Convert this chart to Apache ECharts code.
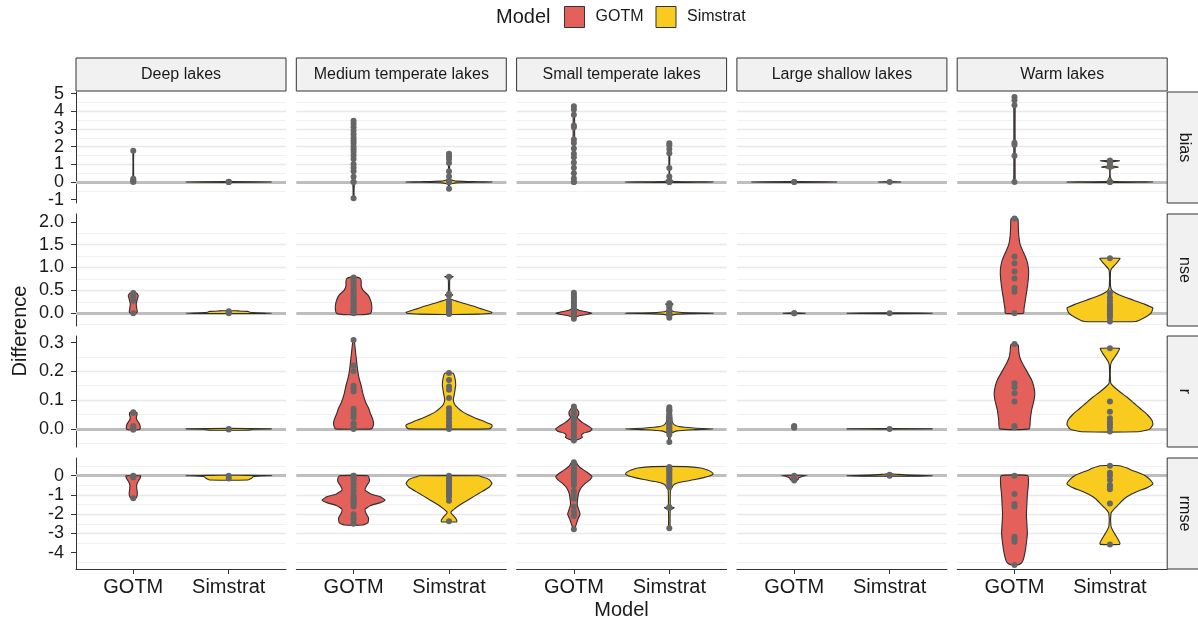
<!DOCTYPE html>
<html>
<head>
<meta charset="utf-8">
<script src="https://cdn.jsdelivr.net/npm/echarts@6/dist/echarts.min.js"></script>
<style>
  html, body { margin: 0; padding: 0; background: #fff; }
  #chart { width: 1198px; height: 626px; }
</style>
</head>
<body>
<div id="chart"></div>
<script>
// facets
const lakeGroups = ['Deep lakes', 'Medium temperate lakes', 'Small temperate lakes', 'Large shallow lakes', 'Warm lakes'];
const metrics = ['bias', 'nse', 'r', 'rmse'];
const models = ['GOTM', 'Simstrat'];

// y scale per metric (free scales by row)
const yMin = [-1.19, -0.28, -0.063, -4.85];
const yMax = [5.09, 2.17, 0.323, 0.92];
const yStep = [1, 0.5, 0.1, 1];
const biasTicks = [-1, 0, 1, 2, 3, 4, 5];
const nseTicks = [0, 0.5, 1, 1.5, 2];
const rTicks = [0, 0.1, 0.2, 0.3];
const rmseTicks = [-4, -3, -2, -1, 0];
const yTicks = [biasTicks, nseTicks, rTicks, rmseTicks];
const yDigits = [0, 1, 1, 0];

// points: per lake group, [GOTM, Simstrat]
const biasPoints = [
  [[1.76, 0.18, 0.1, 0.05, 0.0], [0.0, 0.0, 0.01]],
  [[3.46, 3.3, 3.1, 2.9, 2.7, 2.5, 2.35, 2.2, 2.0, 1.85, 1.7, 1.5, 1.3, 1.0, 0.8, 0.6, 0.3, 0.0, 0.0, -0.92],
   [1.59, 1.45, 1.3, 1.07, 0.6, 0.31, 0.05, 0.02, 0.0, -0.39]],
  [[4.29, 4.1, 3.8, 3.2, 3.1, 2.4, 2.2, 1.9, 1.6, 1.4, 1.1, 0.8, 0.5, 0.2, 0.0, 0.0],
   [2.19, 2.08, 1.87, 1.63, 0.79, 0.31, 0.05, 0.0, 0.0]],
  [[0.0, 0.0], [0.0]],
  [[4.81, 4.62, 4.34, 2.22, 2.1, 1.48, 0.0], [1.21, 1.03, 0.84, 0.0, 0.0]]
];
const nsePoints = [
  [[0.44, 0.4, 0.35, 0.27, 0.0], [0.04, 0.02, 0.0]],
  [[0.78, 0.74, 0.7, 0.65, 0.6, 0.55, 0.5, 0.45, 0.4, 0.36, 0.32, 0.28, 0.25, 0.2, 0.16, 0.12, 0.08, 0.05, 0.02, 0.0],
   [0.8, 0.42, 0.38, 0.25, 0.2, 0.15, 0.1, 0.08, 0.05, 0.03, 0.0, -0.02]],
  [[0.45, 0.4, 0.35, 0.3, 0.25, 0.2, 0.15, 0.1, 0.05, 0.02, 0.0, -0.03, -0.07, -0.12],
   [0.22, 0.18, 0.15, 0.1, 0.05, 0.02, 0.0, -0.02, -0.05, -0.1]],
  [[0.0, 0.0], [0.0]],
  [[2.07, 1.24, 1.09, 0.91, 0.76, 0.55, 0.47, 0.0],
   [1.2, 0.44, 0.35, 0.28, 0.2, 0.15, 0.1, 0.05, 0.0, -0.05, -0.1, -0.18]]
];
const rPoints = [
  [[0.058, 0.055, 0.01, 0.005, -0.003], [-0.002, 0.0]],
  [[0.309, 0.22, 0.2, 0.15, 0.14, 0.13, 0.07, 0.06, 0.05, 0.04, 0.02, 0.015, 0.005, 0.0],
   [0.194, 0.17, 0.147, 0.136, 0.107, 0.072, 0.06, 0.049, 0.037, 0.025, 0.014, 0.008, 0.0]],
  [[0.078, 0.07, 0.055, 0.05, 0.04, 0.03, 0.02, 0.01, 0.005, 0.0, -0.01, -0.02, -0.03, -0.04],
   [0.075, 0.065, 0.06, 0.05, 0.045, 0.04, 0.035, 0.03, 0.02, 0.015, 0.01, 0.005, 0.0, -0.005, -0.01, -0.02, -0.046]],
  [[0.01, 0.007, 0.004], [0.0]],
  [[0.295, 0.159, 0.145, 0.124, 0.095, 0.01, 0.005],
   [0.28, 0.095, 0.06, 0.037, 0.025, 0.015, 0.005, -0.009]]
];
const rmsePoints = [
  [[0.0, -0.05, -0.1, -1.17], [0.0, -0.14]],
  [[0.0, 0.0, -0.1, -0.2, -0.4, -0.6, -0.8, -1.0, -1.1, -1.2, -1.25, -1.3, -1.4, -1.5, -1.6, -2.0, -2.2, -2.3, -2.5],
   [0.0, -0.1, -0.2, -0.3, -0.4, -0.5, -0.6, -0.7, -0.8, -0.9, -1.0, -1.1, -1.3, -2.37]],
  [[0.7, 0.6, 0.5, 0.4, 0.3, 0.2, 0.1, 0.0, -0.1, -0.2, -0.35, -0.5, -0.8, -1.0, -1.2, -1.6, -1.85, -2.0, -2.1, -2.78],
   [0.45, 0.35, 0.3, 0.2, 0.1, 0.0, -0.1, -0.2, -0.3, -0.45, -0.6, -1.64, -1.66, -2.73]],
  [[0.0, -0.05, -0.15, -0.25], [0.05, 0.02, 0.0]],
  [[0.0, -0.95, -1.47, -1.6, -3.17, -3.3, -3.43, -4.64],
   [0.52, 0.15, 0.0, -0.22, -0.48, -0.55, -0.71, -1.44, -3.57]]
];

// violin density outlines: [value, half width in category units]
const biasViolins = [
  [[[0, 0.008], [0.1, 0.008], [0.25, 0.004], [1.0, 0.003], [1.7, 0.004], [1.76, 0.003]],
   [[-0.03, 0], [-0.015, 0.3], [0, 0.45], [0.015, 0.3], [0.03, 0]]],
  [[[-0.92, 0.004], [-0.5, 0.005], [0, 0.008], [1, 0.008], [2, 0.009], [3, 0.007], [3.46, 0.004]],
   [[-0.39, 0.004], [-0.15, 0.008], [-0.05, 0.07], [-0.015, 0.3], [0, 0.45], [0.015, 0.3], [0.05, 0.08], [0.15, 0.01], [0.6, 0.005], [1.1, 0.006], [1.59, 0.004]]],
  [[[0, 0.008], [1, 0.008], [2, 0.008], [3, 0.008], [4, 0.007], [4.29, 0.004]],
   [[-0.03, 0], [-0.015, 0.3], [0, 0.46], [0.015, 0.3], [0.04, 0.04], [0.3, 0.005], [1.0, 0.004], [1.9, 0.006], [2.19, 0.004]]],
  [[[-0.03, 0], [-0.015, 0.3], [0, 0.45], [0.015, 0.3], [0.03, 0]],
   [[-0.02, 0], [0, 0.12], [0.02, 0]]],
  [[[0, 0.007], [1, 0.006], [2, 0.007], [3, 0.006], [4.3, 0.007], [4.81, 0.004]],
   [[-0.03, 0], [-0.015, 0.3], [0, 0.45], [0.015, 0.3], [0.04, 0.03], [0.3, 0.004], [0.74, 0.005], [0.8, 0.04], [0.85, 0.09], [0.9, 0.03], [0.96, 0.008], [1.03, 0.025], [1.1, 0.008], [1.15, 0.04], [1.2, 0.1], [1.23, 0.02]]]
];
const nseViolins = [
  [[[0, 0.025], [0.03, 0.042], [0.1, 0.037], [0.2, 0.031], [0.3, 0.042], [0.38, 0.052], [0.44, 0.035]],
   [[-0.005, 0.3], [0, 0.45], [0.01, 0.3], [0.02, 0.22], [0.04, 0.2], [0.05, 0.1], [0.055, 0.02]]],
  [[[-0.035, 0.05], [-0.02, 0.15], [0, 0.18], [0.07, 0.19], [0.18, 0.19], [0.3, 0.175], [0.4, 0.15], [0.5, 0.1], [0.6, 0.08], [0.7, 0.08], [0.76, 0.07], [0.79, 0.03]],
   [[-0.03, 0.05], [-0.02, 0.3], [0, 0.44], [0.02, 0.45], [0.05, 0.41], [0.1, 0.33], [0.15, 0.26], [0.2, 0.18], [0.25, 0.1], [0.31, 0.012], [0.36, 0.01], [0.4, 0.04], [0.44, 0.01], [0.6, 0.006], [0.76, 0.01], [0.8, 0.045], [0.82, 0.005]]],
  [[[-0.15, 0.005], [-0.1, 0.01], [-0.06, 0.05], [-0.03, 0.13], [0, 0.19], [0.03, 0.13], [0.06, 0.06], [0.1, 0.02], [0.2, 0.01], [0.35, 0.008], [0.47, 0.004]],
   [[-0.1, 0.005], [-0.05, 0.015], [-0.025, 0.06], [-0.01, 0.2], [0, 0.46], [0.01, 0.2], [0.025, 0.08], [0.05, 0.03], [0.1, 0.01], [0.16, 0.015], [0.2, 0.04], [0.22, 0.01]]],
  [[[-0.01, 0], [0, 0.12], [0.01, 0]],
   [[-0.01, 0], [-0.004, 0.3], [0, 0.45], [0.004, 0.3], [0.01, 0]]],
  [[[0, 0.095], [0.1, 0.1], [0.3, 0.115], [0.5, 0.13], [0.75, 0.145], [0.95, 0.148], [1.15, 0.13], [1.35, 0.09], [1.5, 0.06], [1.7, 0.045], [1.9, 0.04], [2.07, 0.035]],
   [[-0.18, 0.27], [-0.1, 0.36], [0, 0.43], [0.11, 0.45], [0.2, 0.36], [0.29, 0.24], [0.4, 0.1], [0.5, 0.02], [0.6, 0.006], [0.9, 0.006], [0.97, 0.015], [1.05, 0.05], [1.12, 0.08], [1.2, 0.105]]]
];
const rViolins = [
  [[[-0.003, 0.05], [0.0, 0.07], [0.01, 0.072], [0.02, 0.06], [0.03, 0.04], [0.04, 0.032], [0.05, 0.04], [0.058, 0.035]],
   [[-0.005, 0.2], [-0.002, 0.26], [0, 0.45], [0.001, 0.2], [0.002, 0]]],
  [[[0, 0.19], [0.01, 0.205], [0.02, 0.21], [0.035, 0.2], [0.05, 0.18], [0.07, 0.16], [0.09, 0.13], [0.12, 0.1], [0.15, 0.08], [0.18, 0.055], [0.21, 0.04], [0.24, 0.03], [0.27, 0.02], [0.3, 0.01], [0.309, 0.005]],
   [[0, 0.42], [0.008, 0.45], [0.014, 0.45], [0.025, 0.375], [0.037, 0.28], [0.049, 0.2], [0.06, 0.14], [0.072, 0.095], [0.085, 0.06], [0.1, 0.045], [0.12, 0.055], [0.153, 0.07], [0.18, 0.06], [0.194, 0.04]]],
  [[[-0.042, 0.01], [-0.036, 0.05], [-0.03, 0.09], [-0.022, 0.08], [-0.015, 0.1], [-0.008, 0.17], [0, 0.19], [0.01, 0.15], [0.02, 0.1], [0.03, 0.06], [0.04, 0.035], [0.05, 0.05], [0.06, 0.05], [0.07, 0.03], [0.078, 0.01]],
   [[-0.046, 0.005], [-0.03, 0.008], [-0.015, 0.02], [-0.007, 0.08], [-0.003, 0.25], [0, 0.46], [0.003, 0.25], [0.008, 0.1], [0.015, 0.05], [0.025, 0.03], [0.04, 0.025], [0.055, 0.02], [0.07, 0.025], [0.078, 0.01]]],
  [[[0.003, 0.005], [0.007, 0.01], [0.011, 0.005]],
   [[-0.0015, 0], [0, 0.45], [0.0015, 0]]],
  [[[0.0, 0.155], [0.03, 0.165], [0.066, 0.18], [0.1, 0.205], [0.124, 0.213], [0.15, 0.2], [0.17, 0.18], [0.2, 0.13], [0.23, 0.08], [0.25, 0.055], [0.27, 0.045], [0.29, 0.04], [0.295, 0.025]],
   [[-0.01, 0.3], [-0.005, 0.38], [0.0, 0.42], [0.015, 0.45], [0.03, 0.44], [0.05, 0.39], [0.07, 0.32], [0.09, 0.25], [0.11, 0.18], [0.13, 0.1], [0.15, 0.03], [0.16, 0.008], [0.22, 0.006], [0.235, 0.02], [0.25, 0.05], [0.265, 0.08], [0.28, 0.1]]]
];
const rmseViolins = [
  [[[-1.2, 0.01], [-1.15, 0.03], [-1.05, 0.04], [-0.9, 0.043], [-0.7, 0.038], [-0.5, 0.035], [-0.3, 0.05], [-0.15, 0.07], [0, 0.077]],
   [[-0.22, 0.2], [-0.15, 0.235], [-0.06, 0.255], [-0.02, 0.3], [0, 0.45], [0.01, 0.3], [0.02, 0.1]]],
  [[[-2.56, 0.1], [-2.45, 0.15], [-2.2, 0.157], [-1.95, 0.13], [-1.75, 0.12], [-1.55, 0.18], [-1.4, 0.28], [-1.26, 0.33], [-1.1, 0.28], [-0.95, 0.18], [-0.74, 0.12], [-0.5, 0.14], [-0.3, 0.165], [-0.15, 0.165], [0, 0.15]],
   [[-2.4, 0.08], [-2.3, 0.08], [-2.15, 0.06], [-2.0, 0.03], [-1.9, 0.02], [-1.75, 0.05], [-1.5, 0.12], [-1.2, 0.22], [-0.9, 0.32], [-0.6, 0.42], [-0.4, 0.45], [-0.2, 0.42], [-0.05, 0.34], [0, 0.31]]],
  [[[-2.78, 0.005], [-2.6, 0.02], [-2.3, 0.04], [-2.0, 0.065], [-1.75, 0.05], [-1.5, 0.035], [-1.2, 0.04], [-0.9, 0.05], [-0.6, 0.08], [-0.4, 0.12], [-0.2, 0.17], [-0.05, 0.19], [0.1, 0.16], [0.3, 0.1], [0.5, 0.05], [0.65, 0.03], [0.73, 0.01]],
   [[-2.73, 0.005], [-2.68, 0.012], [-2.6, 0.008], [-1.8, 0.01], [-1.72, 0.03], [-1.66, 0.05], [-1.6, 0.012], [-0.75, 0.012], [-0.6, 0.03], [-0.5, 0.04], [-0.4, 0.07], [-0.3, 0.15], [-0.2, 0.27], [-0.1, 0.36], [0.0, 0.43], [0.09, 0.46], [0.2, 0.44], [0.3, 0.4], [0.4, 0.33], [0.47, 0.18]]],
  [[[-0.3, 0.01], [-0.2, 0.04], [-0.1, 0.05], [-0.03, 0.09], [0, 0.115], [0.02, 0.08]],
   [[-0.02, 0.3], [0, 0.45], [0.04, 0.2], [0.08, 0.05], [0.1, 0.01]]],
  [[[-4.64, 0.03], [-4.55, 0.07], [-4.4, 0.09], [-4.0, 0.11], [-3.5, 0.125], [-3.0, 0.135], [-2.5, 0.13], [-2.0, 0.125], [-1.5, 0.13], [-1.0, 0.135], [-0.5, 0.145], [0, 0.14]],
   [[-3.57, 0.1], [-3.5, 0.105], [-3.35, 0.09], [-3.1, 0.06], [-2.85, 0.03], [-2.6, 0.01], [-1.95, 0.012], [-1.75, 0.04], [-1.5, 0.09], [-1.2, 0.15], [-1.0, 0.21], [-0.8, 0.3], [-0.6, 0.4], [-0.43, 0.45], [-0.2, 0.42], [0, 0.37], [0.15, 0.3], [0.3, 0.22], [0.4, 0.18], [0.52, 0.1]]]
];

const allPoints = [biasPoints, nsePoints, rPoints, rmsePoints];
const allViolins = [biasViolins, nseViolins, rViolins, rmseViolins];

// layout
const FONT = 'Liberation Sans, Arial, Helvetica, sans-serif';
const fillColors = ['#E4605A', '#F8CB1E'];
const colLeft = [76, 296.3, 516.6, 736.9, 957.2];
const panelW = 210;
const rowTop = [92, 214, 336, 458];
const rowH = [111, 112, 111, 111];

const grids = [], xAxes = [], yAxes = [], series = [], graphics = [];

metrics.forEach((metric, r) => {
  const ticks = yTicks[r];
  // blank end labels so the real first/last labels are not dropped for overlap
  const labelValues = [yMin[r]].concat(ticks, [yMax[r]]);
  lakeGroups.forEach((lake, c) => {
    const g = r * 5 + c;
    grids.push({ left: colLeft[c], top: rowTop[r], width: panelW, height: rowH[r] });
    xAxes.push({
      gridIndex: g, type: 'value', min: 0.4, max: 2.6, minInterval: 1, maxInterval: 1,
      axisLine: { show: r === 3, onZero: false, lineStyle: { color: '#333', width: 1 } },
      axisTick: { show: r === 3, length: 5, customValues: [1, 2], lineStyle: { color: '#333' } },
      axisLabel: {
        show: r === 3, customValues: [1, 2], margin: 8,
        formatter: v => models[Math.round(v) - 1] || '',
        fontSize: 20, color: '#1a1a1a', fontFamily: FONT
      },
      splitLine: { show: true, showMinLine: false, showMaxLine: false, lineStyle: { color: '#ebebeb', width: 1.5 } }
    });
    yAxes.push({
      gridIndex: g, type: 'value', min: yMin[r], max: yMax[r],
      minInterval: yStep[r], maxInterval: yStep[r],
      axisLine: { show: c === 0, onZero: false, lineStyle: { color: '#333', width: 1 } },
      axisTick: { show: c === 0, length: 5, customValues: ticks, lineStyle: { color: '#333' } },
      axisLabel: {
        show: c === 0, customValues: labelValues, margin: 12,
        showMinLabel: false, showMaxLabel: false, hideOverlap: false, interval: 0,
        formatter: v => (v < ticks[0] - 1e-9 || v > ticks[ticks.length - 1] + 1e-9) ? '' : Number(v).toFixed(yDigits[r]),
        fontSize: 18, color: '#1a1a1a', fontFamily: FONT
      },
      splitLine: { show: true, showMinLine: false, showMaxLine: false, lineStyle: { color: '#e8e8e8', width: 1.4 } },
      minorTick: { show: false, splitNumber: 2 },
      minorSplitLine: { show: true, lineStyle: { color: '#f1f1f1', width: 1 } }
    });

    // zero reference line, under the violins
    series.push({
      type: 'scatter', xAxisIndex: g, yAxisIndex: g, data: [], silent: true, z: 1,
      markLine: {
        silent: true, symbol: 'none', label: { show: false }, animation: false, z: 1,
        lineStyle: { color: '#bebebe', width: 3, type: 'solid' },
        data: [{ yAxis: 0 }]
      }
    });

    models.forEach((model, m) => {
      const profile = allViolins[r][c][m];
      const xc = m + 1;
      series.push({
        type: 'custom', name: model, xAxisIndex: g, yAxisIndex: g, z: 2, silent: true,
        itemStyle: { color: fillColors[m] },
        data: [[xc, 0]],
        renderItem: (params, api) => {
          const right = profile.map(p => api.coord([xc + p[1], p[0]]));
          const left = profile.slice().reverse().map(p => api.coord([xc - p[1], p[0]]));
          return {
            type: 'polygon',
            shape: { points: right.concat(left), smooth: profile.length > 6 ? 0.15 : 0 },
            style: { fill: fillColors[m], stroke: '#2e2e2e', lineWidth: 1.1 }
          };
        }
      });
      series.push({
        type: 'scatter', xAxisIndex: g, yAxisIndex: g, z: 3, silent: true,
        symbolSize: 6, itemStyle: { color: '#666', opacity: 1 },
        data: allPoints[r][c][m].map(v => [xc, v])
      });
    });
  });
});

// facet strips
lakeGroups.forEach((lake, c) => {
  graphics.push({
    type: 'rect', shape: { x: colLeft[c], y: 58, width: panelW, height: 33 },
    style: { fill: '#f1f1f1', stroke: '#333', lineWidth: 1 }, z: 10
  });
  graphics.push({
    type: 'text', x: colLeft[c] + panelW / 2, y: 74.5, z: 11,
    style: { text: lake, fill: '#1a1a1a', font: '16px ' + FONT, align: 'center', verticalAlign: 'middle' }
  });
});
metrics.forEach((metric, r) => {
  graphics.push({
    type: 'rect', shape: { x: 1167.2, y: rowTop[r], width: 34, height: rowH[r] },
    style: { fill: '#f1f1f1', stroke: '#333', lineWidth: 1 }, z: 10
  });
  graphics.push({
    type: 'text', x: 1184, y: rowTop[r] + rowH[r] / 2, rotation: -Math.PI / 2, z: 11,
    style: { text: metric, fill: '#1a1a1a', font: '16px ' + FONT, align: 'center', verticalAlign: 'middle' }
  });
});
// titles
graphics.push({
  type: 'text', x: 20, y: 331, rotation: Math.PI / 2, z: 11,
  style: { text: 'Difference', fill: '#1a1a1a', font: '20px ' + FONT, align: 'center', verticalAlign: 'middle' }
});
graphics.push({
  type: 'text', x: 621.5, y: 610, z: 11,
  style: { text: 'Model', fill: '#1a1a1a', font: '20px ' + FONT, align: 'center', verticalAlign: 'middle' }
});
graphics.push({
  type: 'text', x: 496, y: 17, z: 11,
  style: { text: 'Model', fill: '#1a1a1a', font: '20px ' + FONT, align: 'left', verticalAlign: 'middle' }
});

const chart = echarts.init(document.getElementById('chart'), null, { renderer: 'canvas' });
chart.setOption({
  animation: false,
  backgroundColor: '#fff',
  legend: {
    data: models, left: 564, top: 6, orient: 'horizontal', padding: 0,
    icon: 'rect', itemWidth: 20, itemHeight: 21, itemGap: 12, selectedMode: false,
    itemStyle: { borderColor: '#333', borderWidth: 1 },
    textStyle: { fontSize: 16, color: '#1a1a1a', fontFamily: FONT, padding: [0, 0, 0, 6] }
  },
  grid: grids,
  xAxis: xAxes,
  yAxis: yAxes,
  series: series,
  graphic: graphics
});
</script>
</body>
</html>
